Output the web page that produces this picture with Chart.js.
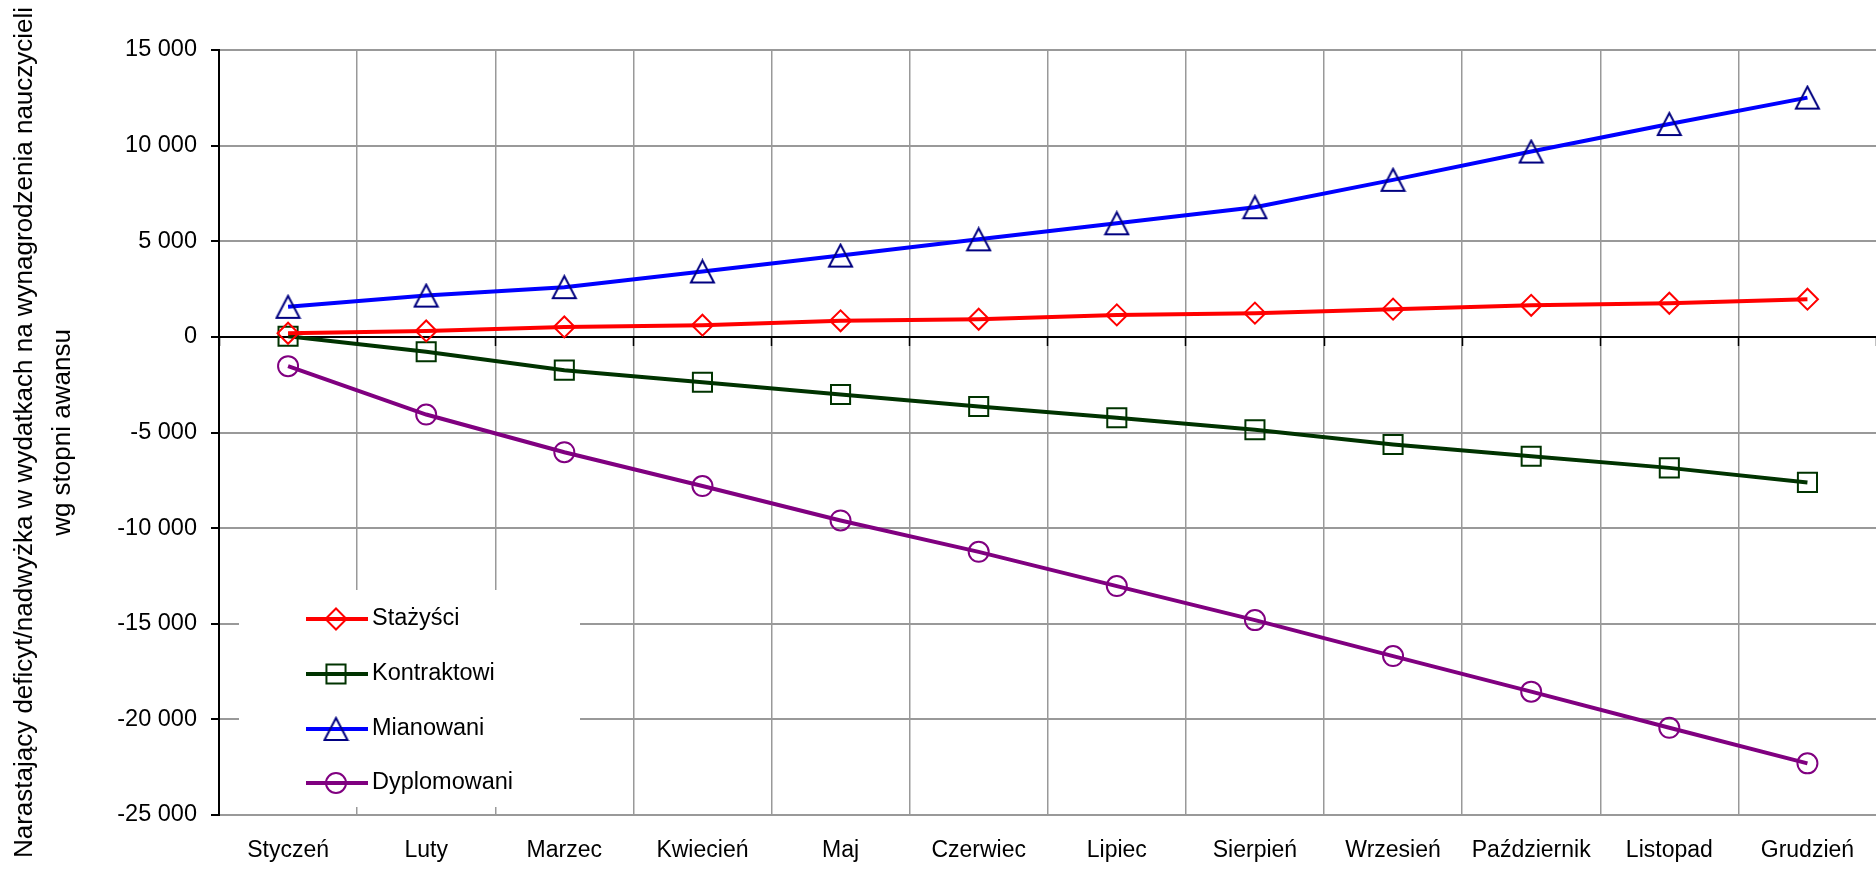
<!DOCTYPE html>
<html lang="pl">
<head>
<meta charset="utf-8">
<script src="https://cdn.jsdelivr.net/npm/chart.js@4"></script>
<style>
  html, body { margin: 0; padding: 0; background: #ffffff; overflow: hidden; width: 1876px; height: 870px; }
  #wrap { width: 1892px; height: 870px; position: relative; }
  #c { display: block; }
</style>
</head>
<body>
<div id="wrap"><canvas id="c"></canvas></div>
<script>
const months = ['Styczeń','Luty','Marzec','Kwiecień','Maj','Czerwiec','Lipiec','Sierpień','Wrzesień','Październik','Listopad','Grudzień'];
const stazysci    = [190, 310, 520, 610, 840, 920, 1150, 1240, 1450, 1650, 1760, 1970];
const kontraktowi = [30, -780, -1740, -2370, -3010, -3640, -4230, -4860, -5630, -6240, -6850, -7610];
const mianowani   = [1570, 2160, 2600, 3420, 4250, 5100, 5940, 6780, 8210, 9690, 11130, 12510];
const dyplomowani = [-1530, -4060, -6030, -7800, -9600, -11240, -13030, -14810, -16690, -18550, -20440, -22300];
const seriesNames = ['Stażyści', 'Kontraktowi', 'Mianowani', 'Dyplomowani'];
const yTitle = ['Narastający deficyt/nadwyżka w wydatkach na wynagrodzenia nauczycieli', 'wg stopni awansu'];
const yMin = -25000, yMax = 15000, yStep = 5000;

const FONT = "'Liberation Sans', Arial, Helvetica, sans-serif";

function fmt(v) {
  const s = String(Math.abs(v)).replace(/\B(?=(\d{3})+(?!\d))/g, ' ');
  return (v < 0 ? '-' : '') + s;
}

// centred hollow triangle marker
function triangleMarker(color, w, h) {
  const c = document.createElement('canvas');
  c.width = w + 4; c.height = h + 4;
  const g = c.getContext('2d');
  g.strokeStyle = color; g.lineWidth = 2; g.lineJoin = 'miter';
  g.beginPath();
  g.moveTo(c.width / 2, 2);
  g.lineTo(c.width - 2, c.height - 2);
  g.lineTo(2, c.height - 2);
  g.closePath();
  g.stroke();
  return c;
}
const triMark = triangleMarker('#000080', 23, 22);

function ds(label, data, lineColor, ptColor, style, radius) {
  return {
    label, data,
    borderColor: lineColor, borderWidth: 4,
    pointStyle: style, pointRadius: radius, pointHoverRadius: radius,
    pointBorderColor: ptColor, pointBackgroundColor: 'rgba(0,0,0,0)',
    pointBorderWidth: 2, pointHoverBorderWidth: 2,
    tension: 0, fill: false, xAxisID: 'x', yAxisID: 'y'
  };
}

const legendPlugin = {
  id: 'boxLegend',
  beforeDatasetsDraw(chart) {
    const ctx = chart.ctx;
    ctx.save();
    ctx.fillStyle = '#ffffff';
    ctx.fillRect(239, 590, 341, 217);
    const ys = [619, 674, 729, 783];
    chart.data.datasets.forEach((d, i) => {
      const y = ys[i];
      ctx.strokeStyle = d.borderColor;
      ctx.lineWidth = 4;
      ctx.beginPath(); ctx.moveTo(306, y); ctx.lineTo(368, y); ctx.stroke();
      ctx.strokeStyle = d.pointBorderColor;
      ctx.fillStyle = 'rgba(0,0,0,0)';
      ctx.lineWidth = 2;
      Chart.helpers.drawPoint(ctx, { pointStyle: d.pointStyle, radius: d.pointRadius, rotation: 0, borderWidth: 2 }, 336, y);
      ctx.fillStyle = '#000000';
      ctx.font = '23.5px ' + FONT;
      ctx.textAlign = 'left';
      ctx.textBaseline = 'middle';
      ctx.fillText(d.label, 372, y);
    });
    ctx.restore();
  }
};

new Chart(document.getElementById('c'), {
  type: 'line',
  data: {
    labels: months,
    datasets: [
      ds(seriesNames[0], stazysci, '#ff0000', '#ff0000', 'rectRot', 10.5),
      ds(seriesNames[1], kontraktowi, '#003300', '#003300', 'rect', 13.5),
      ds(seriesNames[2], mianowani, '#0000ff', '#000080', triMark, 12),
      ds(seriesNames[3], dyplomowani, '#800080', '#800080', 'circle', 10)
    ]
  },
  options: {
    responsive: true,
    maintainAspectRatio: false,
    animation: false,
    events: [],
    layout: { padding: { top: 50, left: 0, right: 0, bottom: 0 } },
    plugins: { legend: { display: false }, tooltip: { enabled: false }, title: { display: false } },
    scales: {
      x: {
        type: 'category',
        position: 'bottom',
        offset: true,
        grid: { offset: true, color: '#999999', lineWidth: 1.5, drawTicks: false },
        border: { display: true, color: '#999999', width: 2 },
        ticks: { color: '#000000', font: { family: FONT, size: 23 }, padding: 22, maxRotation: 0, autoSkip: false },
        afterFit(s) { s.height = 55; s.paddingRight = 0; s.paddingLeft = 0; }
      },
      x2: {
        type: 'category',
        axis: 'x',
        labels: months,
        position: { y: 0 },
        offset: true,
        grid: { offset: true, drawOnChartArea: false, drawTicks: true, tickLength: 8, tickColor: '#000000', tickWidth: 1.5 },
        border: { display: true, color: '#000000', width: 2 },
        ticks: { display: false },
        afterFit(s) { s.paddingRight = 0; s.paddingLeft = 0; }
      },
      y: {
        type: 'linear',
        position: 'left',
        min: yMin, max: yMax,
        ticks: { stepSize: yStep, color: '#000000', font: { family: FONT, size: 23.5 }, padding: 14, callback: v => fmt(v) },
        grid: { color: '#999999', lineWidth: 2, tickLength: 8, tickColor: '#000000', tickWidth: 2 },
        border: { display: true, color: '#000000', width: 2 },
        title: {
          display: true, text: yTitle, color: '#000000',
          font: { family: FONT, size: 26, lineHeight: 1.46 },
          padding: { top: 6, bottom: 0 }
        },
        afterFit(s) { s.width = 219; }
      }
    }
  },
  plugins: [legendPlugin]
});
</script>
</body>
</html>
